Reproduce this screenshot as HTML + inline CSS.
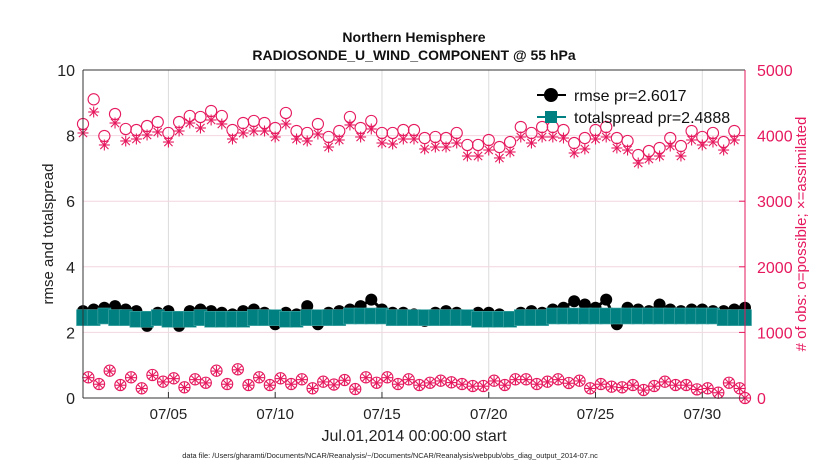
<!DOCTYPE html>
<html><head><meta charset="utf-8">
<style>
html,body{margin:0;padding:0;background:#fff;}
svg text{font-family:"Liberation Sans",Arial,sans-serif;}
</style></head>
<body>
<svg id="chart" width="830" height="470" viewBox="0 0 830 470" xmlns="http://www.w3.org/2000/svg">
<rect x="0" y="0" width="830" height="470" fill="#fff"/>
<text x="414" y="42" text-anchor="middle" font-size="14" font-weight="bold" fill="#111">Northern Hemisphere</text>
<text x="414" y="60" text-anchor="middle" font-size="14" font-weight="bold" fill="#111">RADIOSONDE_U_WIND_COMPONENT @ 55 hPa</text>
<g id="grid"></g>
<g id="series"></g>
<g id="axes"></g>
<text transform="translate(53,234) rotate(-90)" text-anchor="middle" font-size="15" fill="#222">rmse and totalspread</text>
<text transform="translate(806,234) rotate(-90)" text-anchor="middle" font-size="15" fill="#e6195f"># of obs: o=possible; ×=assimilated</text>
<text x="414" y="441" text-anchor="middle" font-size="16" fill="#222">Jul.01,2014 00:00:00 start</text>
<text x="390" y="458" text-anchor="middle" font-size="7.4" fill="#222">data file: /Users/gharamti/Documents/NCAR/Reanalysis/~/Documents/NCAR/Reanalysis/webpub/obs_diag_output_2014-07.nc</text>
<g id="legend"></g>
</svg>
<script>
const xTickDays=[4,9,14,19,24,29];
const xTickLabels=["07/05","07/10","07/15","07/20","07/25","07/30"];
const yLeftTicks=[0,2,4,6,8,10];
const yRightTicks=[0,1000,2000,3000,4000,5000];
const possibleUpper=[4177,4553,3994,4329,4101,4085,4146,4207,4040,4207,4299,4284,4375,4299,4085,4192,4223,4192,4116,4345,4070,4040,4177,3979,4070,4284,4116,4223,4040,4040,4085,4085,3963,3979,3963,4040,3857,3857,3933,3826,3902,4131,4040,4131,4131,4085,3887,3963,4085,4131,3963,3918,3704,3765,3811,3963,3841,4070,3979,4040,3902,4070];
const assimUpper=[4040,4360,3857,4192,3918,3948,4009,4055,3902,4070,4192,4116,4238,4177,3948,4040,4070,4070,3979,4177,3948,3918,4024,3826,3933,4162,3979,4101,3887,3872,3948,3948,3796,3826,3826,3887,3689,3689,3780,3659,3750,3979,3887,3979,3979,3963,3735,3796,3948,3979,3811,3780,3582,3643,3689,3841,3689,3933,3857,3902,3780,3933];
const possibleLower=[315,213,416,198,315,148,351,249,300,163,285,233,416,213,437,198,315,198,300,213,285,148,249,205,274,137,315,233,315,213,285,198,233,264,239,213,183,183,264,198,285,285,213,249,285,229,264,148,213,173,163,198,122,183,249,198,198,132,148,81,233,148,0];
const assimLower=[310,210,410,195,310,145,345,245,295,160,280,230,410,210,430,195,310,195,295,210,280,145,245,200,270,135,310,230,310,210,280,195,230,260,235,210,180,180,260,195,280,280,210,245,280,225,260,145,210,170,160,195,120,180,245,195,195,130,145,80,230,145,0];
const rmse=[2.65,2.7,2.75,2.8,2.7,2.65,2.2,2.6,2.65,2.2,2.65,2.7,2.65,2.6,2.55,2.65,2.7,2.6,2.25,2.6,2.55,2.8,2.25,2.6,2.65,2.7,2.8,3.0,2.7,2.6,2.6,2.55,2.35,2.6,2.65,2.6,2.4,2.6,2.6,2.55,2.35,2.6,2.65,2.6,2.7,2.75,2.95,2.85,2.75,3.0,2.25,2.75,2.7,2.65,2.85,2.7,2.65,2.7,2.7,2.65,2.65,2.7,2.75];
const spread=[2.45,2.45,2.5,2.45,2.45,2.4,2.4,2.45,2.4,2.4,2.4,2.45,2.4,2.4,2.4,2.4,2.45,2.45,2.45,2.4,2.4,2.45,2.45,2.45,2.45,2.5,2.5,2.5,2.5,2.45,2.45,2.45,2.45,2.45,2.45,2.45,2.45,2.4,2.4,2.4,2.4,2.45,2.45,2.45,2.5,2.5,2.5,2.5,2.5,2.5,2.5,2.5,2.5,2.5,2.5,2.5,2.5,2.5,2.5,2.5,2.45,2.45,2.45];
const rmsePr="2.6017", spreadPr="2.4888";

const NS="http://www.w3.org/2000/svg";
const L=83,R=745,T=70,B=398,DAYS=31;
const MAG="#e6195f",TEAL="#008080";
function xs(d){return L+d/DAYS*(R-L);}
function yl(v){return B-v/10*(B-T);}
function yr(v){return B-v/5000*(B-T);}
function mk(tag,attrs,parent){const e=document.createElementNS(NS,tag);for(const k in attrs)e.setAttribute(k,attrs[k]);parent.appendChild(e);return e;}
const grid=document.getElementById('grid'),series=document.getElementById('series'),axes=document.getElementById('axes'),legend=document.getElementById('legend');

xTickDays.forEach((d,i)=>{
  const g=mk('line',{x1:xs(d),x2:xs(d),y1:T,y2:B,stroke:'#dcdcdc','stroke-width':1},grid);
  
  
  const t=mk('line',{x1:xs(d),x2:xs(d),y1:B,y2:B-6,stroke:'#333','stroke-width':1},axes);
  
  
  const lb=mk('text',{x:xs(d),y:B+21,'text-anchor':'middle','font-size':15,fill:'#222'},axes);
  lb.textContent=xTickLabels[i];
  
  
});
yLeftTicks.forEach(v=>{
  if(v>0&&v<10){
    const g=mk('line',{x1:L,x2:R,y1:yl(v),y2:yl(v),stroke:'#f2d6e0','stroke-width':1},grid);
    
    
  }
  const lb=mk('text',{x:L-8,y:yl(v)+6,'text-anchor':'end','font-size':16,fill:'#222'},axes);
  lb.textContent=v;
  
  
});
yRightTicks.forEach(v=>{
  const t=mk('line',{x1:R,x2:R-6,y1:yr(v),y2:yr(v),stroke:MAG,'stroke-width':1},axes);
  
  
  const lb=mk('text',{x:R+12,y:yr(v)+6,'text-anchor':'start','font-size':16,fill:MAG},axes);
  lb.textContent=v;
  
  
});
let a=mk('line',{x1:L,x2:L,y1:T,y2:B,stroke:'#333','stroke-width':1},axes);


a=mk('line',{x1:L,x2:R,y1:B,y2:B,stroke:'#333','stroke-width':1},axes);


a=mk('line',{x1:L,x2:R,y1:T,y2:T,stroke:'#333','stroke-width':1},axes);


a=mk('line',{x1:R,x2:R,y1:T,y2:B,stroke:MAG,'stroke-width':1},axes);



function circle(x,y,r,parent,name){
  const c=mk('circle',{cx:x,cy:y,r:r,fill:'none',stroke:MAG,'stroke-width':1.1},parent);
  
  
}
function star(x,y,s,parent,name){
  const g=mk('g',{stroke:MAG,'stroke-width':1.1},parent);
  
  
  mk('line',{x1:x-s,x2:x+s,y1:y,y2:y},g);
  mk('line',{x1:x,x2:x,y1:y-s,y2:y+s},g);
  const d=s*0.75;
  mk('line',{x1:x-d,x2:x+d,y1:y-d,y2:y+d},g);
  mk('line',{x1:x-d,x2:x+d,y1:y+d,y2:y-d},g);
}
possibleUpper.forEach((v,i)=>circle(xs(i*0.5),yr(v),5.6,series,'possible-obs-point'));
assimUpper.forEach((v,i)=>star(xs(i*0.5),yr(v),5.5,series,'assimilated-obs-point'));
possibleLower.forEach((v,i)=>{const d=Math.min(0.25+i*0.5,DAYS);circle(xs(d),yr(v),5.6,series,'possible-obs-point-low');});
assimLower.forEach((v,i)=>{const d=Math.min(0.25+i*0.5,DAYS);star(xs(d),yr(v),5.2,series,'assimilated-obs-point-low');});

let pts=rmse.map((v,i)=>xs(i*0.5)+','+yl(v)).join(' ');
let pl=mk('polyline',{points:pts,fill:'none',stroke:'#000','stroke-width':3},series);


rmse.forEach((v,i)=>{
  const c=mk('circle',{cx:xs(i*0.5),cy:yl(v),r:6,fill:'#000'},series);
  
  
});
pts=spread.map((v,i)=>xs(i*0.5)+','+yl(v)).join(' ');
pl=mk('polyline',{points:pts,fill:'none',stroke:TEAL,'stroke-width':3},series);


spread.forEach((v,i)=>{
  const c=mk('rect',{x:xs(i*0.5)-6.5,y:yl(v)-8,width:13,height:16,fill:TEAL,stroke:'#4aa8a8','stroke-width':0.6},series);
  
  
});

// legend
let lg=mk('line',{x1:537,x2:566,y1:95,y2:95,stroke:'#000','stroke-width':2},legend);


lg=mk('circle',{cx:551,cy:95,r:7,fill:'#000'},legend);


let lt=mk('text',{x:574,y:101,'font-size':16,fill:'#111'},legend);
lt.textContent='rmse pr='+rmsePr;


lg=mk('line',{x1:537,x2:566,y1:117,y2:117,stroke:TEAL,'stroke-width':2},legend);


lg=mk('rect',{x:545,y:111,width:12,height:12,fill:TEAL},legend);


lt=mk('text',{x:574,y:123,'font-size':16,fill:'#111'},legend);
lt.textContent='totalspread pr='+spreadPr;


</script>
</body></html>
